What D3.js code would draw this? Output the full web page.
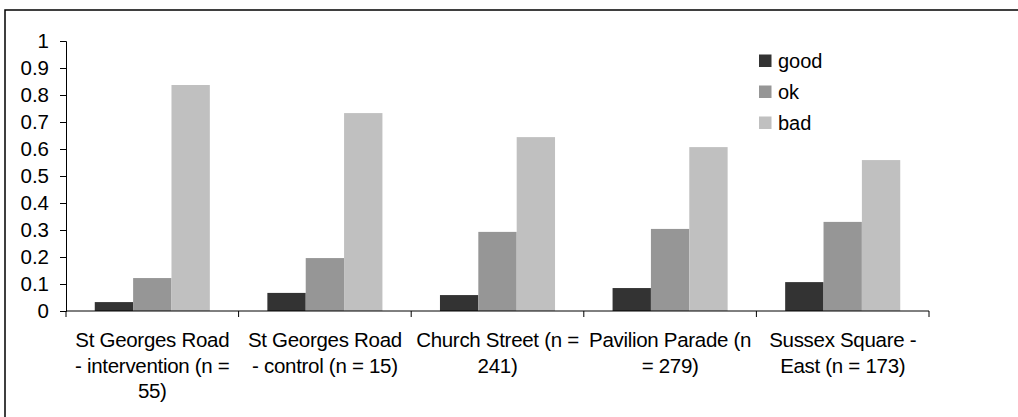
<!DOCTYPE html>
<html>
<head>
<meta charset="utf-8">
<script src="https://cdn.jsdelivr.net/npm/d3@7"></script>
<style>
  html, body { margin: 0; padding: 0; background: #fff; }
  svg { display: block; }
  text { font-family: "Liberation Sans", Arial, sans-serif; fill: #000; }
</style>
</head>
<body>
<svg id="chart" width="1018" height="417"></svg>
<script>
// ---- data ----
const categories = [
  "St Georges Road - intervention (n = 55)",
  "St Georges Road - control (n = 15)",
  "Church Street (n = 241)",
  "Pavilion Parade (n = 279)",
  "Sussex Square - East (n = 173)"
];
const categoryLines = [
  ["St Georges Road", "- intervention (n =", "55)"],
  ["St Georges Road", "- control (n = 15)"],
  ["Church Street (n =", "241)"],
  ["Pavilion Parade (n", "= 279)"],
  ["Sussex Square -", "East (n = 173)"]
];
const seriesNames = ["good", "ok", "bad"];
const good = [0.033, 0.067, 0.059, 0.085, 0.107];
const ok   = [0.122, 0.196, 0.293, 0.304, 0.330];
const bad  = [0.837, 0.733, 0.644, 0.607, 0.559];
const yTicks = [0, 0.1, 0.2, 0.3, 0.4, 0.5, 0.6, 0.7, 0.8, 0.9, 1];
const colors = ["#333333", "#969696", "#c0c0c0"];

const seriesValues = [good, ok, bad];

(function () {
const svg = d3.select("#chart");

// outer frame
svg.append("rect")
  .attr("x", 5).attr("y", 10)
  .attr("width", 1030).attr("height", 430)
  .attr("fill", "none").attr("stroke", "#000").attr("stroke-width", 1.5);

const pLeft = 66, pRight = 929, pTop = 41, pBottom = 311;

const x0 = d3.scaleBand().domain(categories).range([pLeft, pRight])
  .paddingInner(1/3).paddingOuter(1/6);
const x1 = d3.scaleBand().domain(seriesNames).range([0, x0.bandwidth()]);
const y = d3.scaleLinear().domain([0, 1]).range([pBottom, pTop]);

// bars
const groups = svg.append("g").selectAll("g")
  .data(categories).join("g")
  .attr("transform", d => `translate(${x0(d)},0)`);
groups.selectAll("rect")
  .data((d, i) => seriesNames.map((s, j) => ({ s, v: seriesValues[j][i], c: colors[j] })))
  .join("rect")
  .attr("x", d => x1(d.s))
  .attr("width", x1.bandwidth())
  .attr("y", d => y(d.v))
  .attr("height", d => pBottom - y(d.v))
  .attr("fill", d => d.c);

// y axis
const yAxis = svg.append("g")
  .attr("transform", `translate(${pLeft},0)`)
  .call(d3.axisLeft(y).tickValues(yTicks).tickSize(6).tickPadding(11)
    .tickFormat(d => String(+d.toFixed(1))));
yAxis.select(".domain").attr("stroke", "#000");
yAxis.selectAll(".tick line").attr("stroke", "#000");
yAxis.selectAll(".tick text")
  .style("font-size", "20.5px")
  .style("font-family", '"Liberation Sans", Arial, sans-serif');

// x axis line with boundary ticks
const xAxisG = svg.append("g");
xAxisG.append("line")
  .attr("x1", pLeft).attr("x2", pRight)
  .attr("y1", pBottom).attr("y2", pBottom)
  .attr("stroke", "#000");
const step = x0.step();
const boundaries = categories.map(c => x0(c) - x0.paddingInner() * step / 2).concat([pRight]);
xAxisG.selectAll("line.tick")
  .data(boundaries).join("line")
  .attr("class", "tick")
  .attr("x1", d => d).attr("x2", d => d)
  .attr("y1", pBottom).attr("y2", pBottom + 6)
  .attr("stroke", "#000");

// category labels
const labelG = svg.append("g");
categories.forEach((c, i) => {
  const cx = x0(c) + x0.bandwidth() / 2;
  const t = labelG.append("text")
    .attr("x", cx).attr("y", 347)
    .attr("text-anchor", "middle")
    .style("font-size", "20.5px")
    .style("letter-spacing", "-0.3px");
  categoryLines[i].forEach((line, k) => {
    t.append("tspan").attr("x", cx).attr("dy", k === 0 ? 0 : 25.5).text(line);
  });
});

// legend
const legend = svg.append("g");
seriesNames.forEach((s, i) => {
  const ly = 54.5 + i * 31;
  legend.append("rect")
    .attr("x", 759).attr("y", ly).attr("width", 12.5).attr("height", 12.5)
    .attr("fill", colors[i]);
  legend.append("text")
    .attr("x", 778).attr("y", ly + 6.25).attr("dy", "0.35em")
    .style("font-size", "20px")
    .text(s);
});
})();
</script>
</body>
</html>
